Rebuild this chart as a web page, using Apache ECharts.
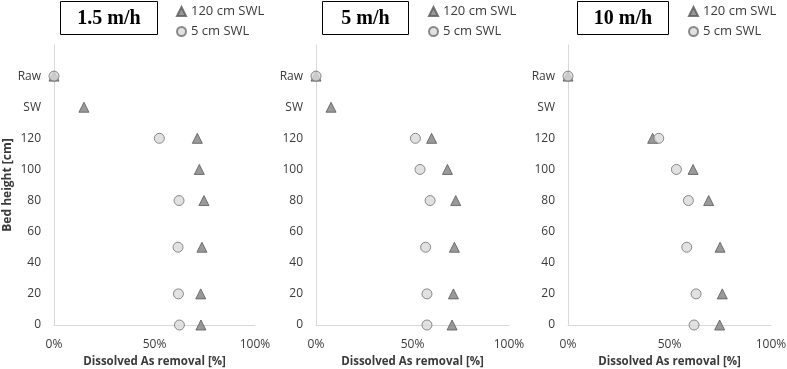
<!DOCTYPE html>
<html><head><meta charset="utf-8">
<script src="https://cdn.jsdelivr.net/npm/echarts@6/dist/echarts.min.js"></script>
<style>html,body{margin:0;padding:0;background:#fff}#c{width:787px;height:369px}</style>
</head><body><div id="c"></div>
<script>
// Bed height positions (Raw and SW placed above 120 cm)
const heights = ['Raw', 'SW', 120, 100, 80, 50, 20, 0];
const panelTitles = ['1.5 m/h', '5 m/h', '10 m/h'];
const seriesNames = ['120 cm SWL', '5 cm SWL'];
const xTicks = ['0%', '50%', '100%'];
// Dissolved As removal [%]
const tri1 = [0, 14.9, 71.3, 72.3, 74.6, 73.6, 73.0, 73.1];
const cir1 = [0, null, 52.4, null, 62.2, 61.7, 61.9, 62.4];
const tri2 = [0, 7.8, 59.9, 68.1, 72.4, 71.7, 71.2, 70.5];
const cir2 = [0, null, 51.5, 53.9, 59.1, 56.8, 57.5, 57.5];
const tri3 = [0, null, 41.7, 61.6, 69.3, 74.9, 76.0, 74.7];
const cir3 = [0, null, 44.7, 53.4, 59.3, 58.5, 63.1, 62.1];

const hPos = h => h === 'Raw' ? 160 : (h === 'SW' ? 140 : h);
const pts = arr => arr.map((v, i) => v == null ? null : [v, hPos(heights[i])]).filter(p => p);

const grids = [
  {left: 54, width: 201, top: 45, bottom: 44, outerBoundsMode: 'none', containLabel: false},
  {left: 316, width: 193, top: 45, bottom: 44, outerBoundsMode: 'none', containLabel: false},
  {left: 568, width: 203, top: 45, bottom: 44, outerBoundsMode: 'none', containLabel: false}
];
const boxes = [{x: 60, w: 97}, {x: 322, w: 86}, {x: 577, w: 91}];
const legLeft = [171, 423, 683];
const triData = [tri1, tri2, tri3];
const cirData = [cir1, cir2, cir3];
const sans = 'Open Sans';
const txt = '#3a3a3a';

const option = {
  animation: false,
  grid: grids,
  xAxis: grids.map((g, i) => ({
    gridIndex: i, type: 'value', min: 0, max: 100, interval: 50,
    axisLine: {show: true, lineStyle: {color: '#d9d9d9'}},
    axisTick: {show: false}, splitLine: {show: false},
    axisLabel: {color: txt, fontFamily: sans, fontSize: 12, margin: 14,
      formatter: v => xTicks[v / 50]},
    name: 'Dissolved As removal [%]', nameLocation: 'middle', nameGap: 30,
    nameTextStyle: {color: txt, fontFamily: sans, fontSize: 11.5, fontWeight: 'bold'}
  })),
  yAxis: grids.map((g, i) => ({
    gridIndex: i, type: 'value', min: 0, max: 180, interval: 20,
    axisLine: {show: true, lineStyle: {color: '#d9d9d9'}},
    axisTick: {show: false}, splitLine: {show: false},
    axisLabel: {color: txt, fontFamily: sans, fontSize: 12, margin: 13,
      formatter: v => v === 160 ? 'Raw' : v === 140 ? 'SW' : v === 180 ? '' : String(v)},
    name: i === 0 ? 'Bed height [cm]' : '', nameLocation: 'middle', nameGap: 40,
    nameTextStyle: {color: txt, fontFamily: sans, fontSize: 12, fontWeight: 'bold'}
  })),
  legend: legLeft.map(l => ({
    left: l, top: 0, orient: 'vertical', itemGap: 7, itemWidth: 9, itemHeight: 9,
    data: seriesNames, selectedMode: false,
    textStyle: {color: txt, fontFamily: sans, fontSize: 13}
  })),
  series: [].concat(...[0, 1, 2].map(i => [
    {name: seriesNames[0], type: 'scatter', xAxisIndex: i, yAxisIndex: i,
      symbol: 'triangle', symbolSize: 10, data: pts(triData[i]),
      itemStyle: {color: '#7f7f7f', borderColor: '#595959', borderWidth: 1}},
    {name: seriesNames[1], type: 'scatter', xAxisIndex: i, yAxisIndex: i,
      symbol: 'circle', symbolSize: 10, data: pts(cirData[i]),
      itemStyle: {color: '#d9d9d9', borderColor: '#6f6f6f', borderWidth: 1}}
  ])),
  graphic: boxes.map((b, i) => ({
    type: 'group', left: b.x, top: 1,
    children: [
      {type: 'rect', shape: {x: 0, y: 0, width: b.w, height: 33},
        style: {fill: '#fff', stroke: '#000', lineWidth: 1}},
      {type: 'text', x: b.w / 2, y: 17,
        style: {text: panelTitles[i], fill: '#000', font: 'bold 20px "Liberation Serif"',
          textAlign: 'center', textVerticalAlign: 'middle'}}
    ]
  }))
};
const chart = echarts.init(document.getElementById('c'), null, {renderer: 'canvas'});
chart.setOption(option);
</script></body></html>
